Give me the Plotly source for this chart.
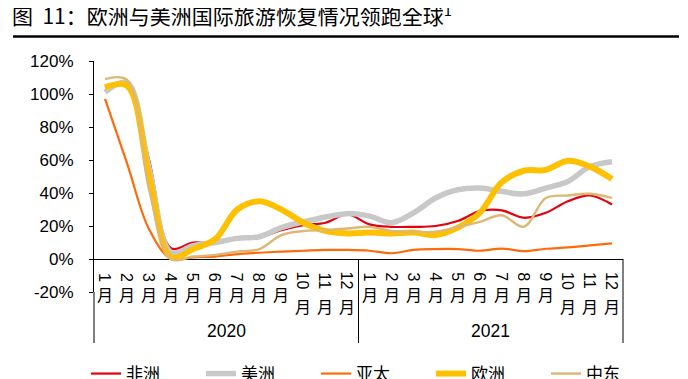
import plotly.graph_objects as go

# ---------------- data ----------------
years = ["2020", "2021"]
months = ["1", "2", "3", "4", "5", "6", "7", "8", "9", "10", "11", "12"]
month_suffix = "月"

africa = [104, 106, 60, 6.5, 10, 9.5, 12, 13, 17.5, 20.5, 22, 27,
          21, 19.5, 19.5, 20, 23, 29, 29.5, 25, 28, 35, 38.5, 33]
americas = [101, 107, 55, 4, 8, 10, 12.5, 13.5, 19, 22.5, 25.5, 27.5,
            26, 22, 28, 37, 42, 43, 41, 39.5, 43, 47, 56, 59]
asia_pacific = [97, 58, 18, 0, 1, 1.5, 3, 3.8, 4.5, 5, 5.5, 5.5,
                5, 3.5, 5.5, 6, 6, 5, 6.3, 4.8, 6.2, 7, 8.2, 9.5]
europe = [104, 105, 50, 1, 6, 12, 30, 35, 30, 22, 17, 15.5,
          16, 15.5, 16, 14.5, 19, 28, 46.5, 53.5, 54, 59.5, 56, 48.5]
middle_east = [109, 108.5, 42, 0, 1.5, 2.5, 4.5, 6, 14.5, 17, 17.5, 18.5,
               19.5, 17, 16.5, 16.5, 19.5, 22.5, 26.5, 19.5, 37, 38.5, 39.5, 37]

series_names = ["非洲", "美洲", "亚太", "欧洲", "中东"]
series_values = [africa, americas, asia_pacific, europe, middle_east]
series_colors = ["#E3000F", "#C8C8C8", "#FF6A0D", "#FFC000", "#DDB774"]
series_widths = [2.2, 5.5, 2.2, 6, 2.4]

y_ticks = [-20, 0, 20, 40, 60, 80, 100, 120]
y_tick_labels = [f"{v}%" for v in y_ticks]

# ---------------- layout constants ----------------
# the page body has an 8px margin, so the figure is drawn 8px in from the corner
OFF = 8
PAGE_W, PAGE_H = 688, 379
W, H = PAGE_W - OFF, PAGE_H - OFF
# plot area in page pixels: x 94..623, y 61..292
L, R = 94 - OFF, PAGE_W - 623
T, B = 61 - OFF, PAGE_H - 292
PW, PH = W - L - R, H - T - B
FONT = "Liberation Sans, Arial, Noto Sans CJK SC, sans-serif"
CJK = "Noto Sans CJK SC, Liberation Sans, sans-serif"

n = len(years) * len(months)
xs = list(range(n))


def py(pix):
    """page pixel y -> paper y"""
    return (292 - pix) / PH


def px(pix):
    """page pixel x -> paper x"""
    return (pix - 94) / PW


fig = go.Figure()
for name, vals, col, w in zip(series_names, series_values, series_colors, series_widths):
    fig.add_trace(go.Scatter(
        x=xs, y=vals, name=name, mode="lines",
        line=dict(color=col, width=w, shape="spline", smoothing=1),
        hoverinfo="skip",
    ))

annotations = []
for yi, yr in enumerate(years):
    for mi, m in enumerate(months):
        idx = yi * len(months) + mi
        two = len(m) > 1
        annotations.append(dict(
            x=idx, xref="x", y=py(281 if two else 277), yref="paper",
            text=m, textangle=90, showarrow=False,
            font=dict(family=FONT, size=16, color="black"),
            xanchor="center", yanchor="middle",
        ))
        annotations.append(dict(
            x=idx, xref="x", y=py(306 if two else 294), yref="paper",
            text=month_suffix, showarrow=False,
            font=dict(family=CJK, size=16, color="black"),
            xanchor="center", yanchor="middle",
        ))
    annotations.append(dict(
        x=yi * len(months) + (len(months) - 1) / 2, xref="x", y=py(331), yref="paper",
        text=yr, showarrow=False,
        font=dict(family=FONT, size=17.5, color="black"),
        xanchor="center", yanchor="middle",
    ))

shapes = []
# category box vertical dividers
for xp, top in [(0, py(292)), (0.5, py(259)), (1, py(259))]:
    shapes.append(dict(type="line", xref="paper", yref="paper",
                       x0=xp, x1=xp, y0=top, y1=py(343),
                       line=dict(color="black", width=1)))
# title underline
shapes.append(dict(type="line", xref="paper", yref="paper",
                   x0=px(13), x1=px(679), y0=py(36.5), y1=py(36.5),
                   line=dict(color="black", width=2.5)))

fig.update_layout(
    width=W, height=H,
    margin=dict(l=L, r=R, t=T, b=B, pad=0, autoexpand=False),
    paper_bgcolor="white", plot_bgcolor="white",
    title=dict(
        text="图  11：欧洲与美洲国际旅游恢复情况领跑全球<sup>1</sup>",
        font=dict(family=CJK, size=21, color="black"),
        x=(12 - OFF) / W, xanchor="left", xref="container",
        y=1 - (17 - OFF) / H, yanchor="middle", yref="container",
    ),
    showlegend=True,
    legend=dict(
        orientation="h", x=px(86), xanchor="left", y=py(374), yanchor="middle",
        font=dict(family=CJK, size=17, color="black"),
        entrywidth=70, entrywidthmode="pixels",
        bgcolor="rgba(0,0,0,0)", itemwidth=30,
    ),
    xaxis=dict(
        range=[-0.5, n - 0.5], showticklabels=False, showgrid=False,
        zeroline=False, showline=False, ticks="", fixedrange=True,
        automargin=False,
    ),
    yaxis=dict(
        range=[-20, 120], tickvals=y_ticks, ticktext=y_tick_labels,
        showgrid=False, zeroline=True, zerolinecolor="black", zerolinewidth=1,
        showline=True, linecolor="black", linewidth=1,
        ticks="outside", ticklen=4, tickcolor="black", tickwidth=1,
        ticklabelstandoff=12, automargin=False,
        tickfont=dict(family=FONT, size=17, color="black"),
    ),
    annotations=annotations,
    shapes=shapes,
)

fig.write_html("out.html")
